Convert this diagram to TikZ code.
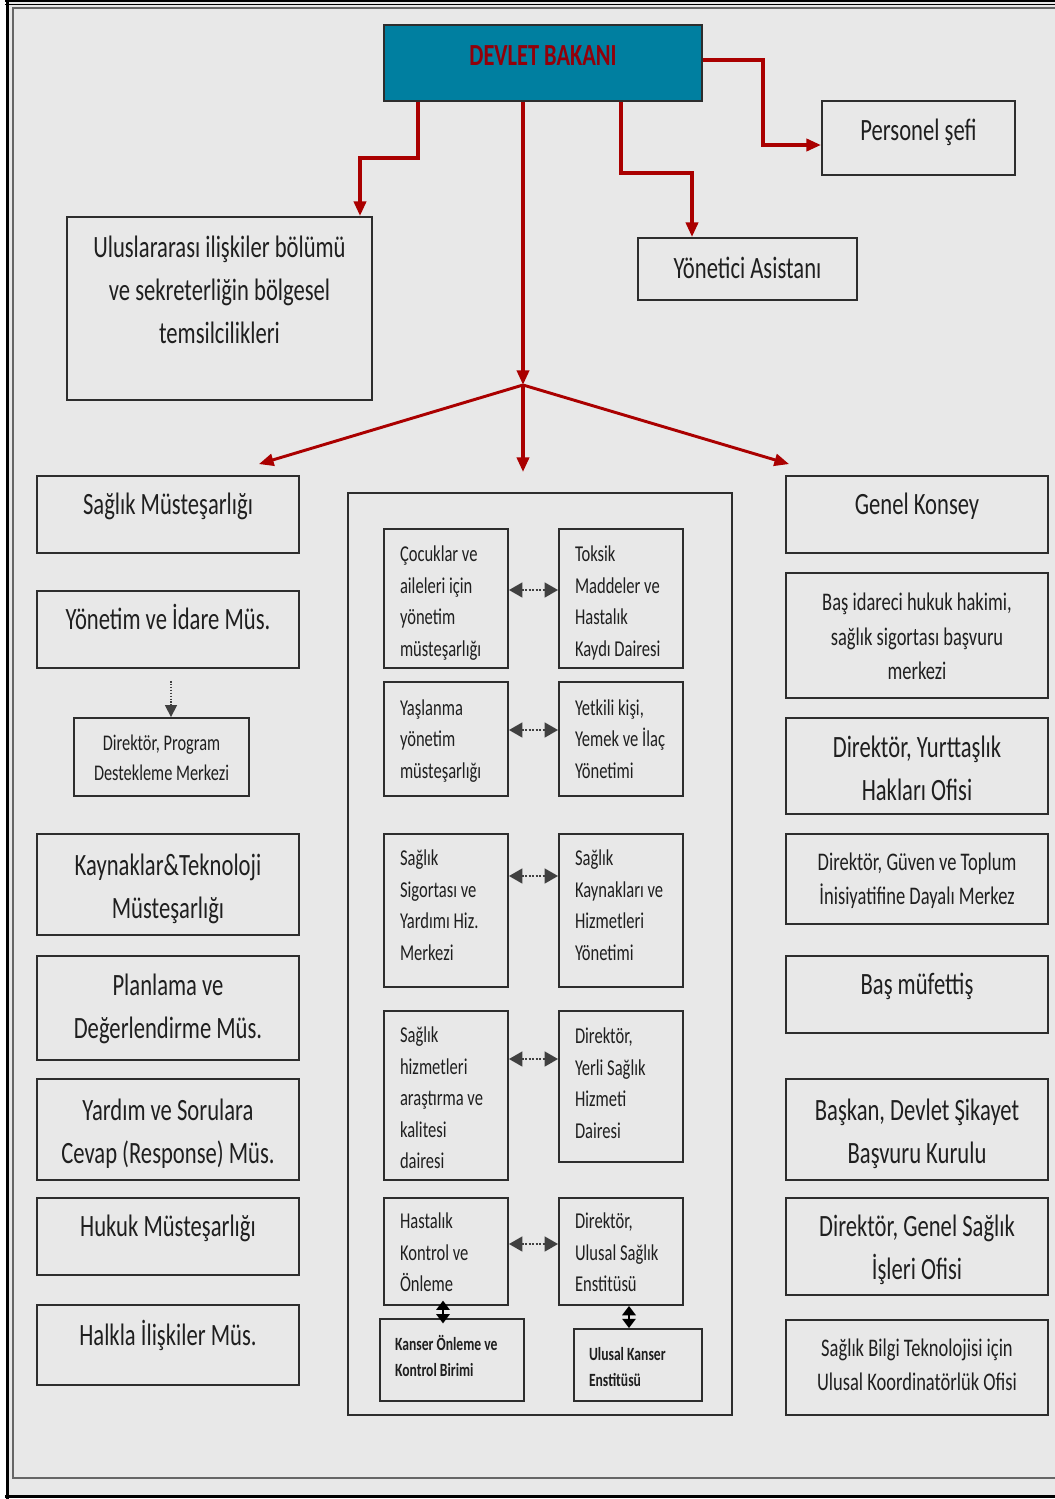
\documentclass[tikz,border=0pt]{standalone}
\usepackage{fontspec}
\setmainfont{Carlito}
\usepackage{graphicx}
\usetikzlibrary{arrows.meta,calc}
\definecolor{zemin}{RGB}{232,232,232}
\definecolor{petrol}{RGB}{0,127,160}
\definecolor{bordo}{RGB}{170,0,0}
\definecolor{baslik}{RGB}{145,0,10}
\definecolor{cizgi}{RGB}{45,45,45}
\newcommand{\yazi}[3][0]{\raisebox{#1pt}[0pt][0pt]{\scalebox{0.73}[1]{\begin{tabular}{@{}#2@{}}#3\end{tabular}}}}
\begin{document}
\begin{tikzpicture}[x=0.75pt,y=-0.75pt,
  kutu/.style={draw=cizgi,line width=1.4pt,inner sep=0pt,text=black!88},
  boyut/.style 2 args={minimum width=#1*0.75pt,minimum height=#2*0.75pt},
  iri/.style={font=\fontsize{23.25}{32.25}\selectfont},
  orta/.style={font=\fontsize{19}{25.8}\selectfont},
  ufak/.style={font=\fontsize{17}{23.6}\selectfont},
  minik/.style={font=\fontsize{14}{19.5}\selectfont\bfseries},
  bag/.style={draw=bordo,line width=2.8pt,-{Triangle[length=11pt,width=9pt]}},
  capraz/.style={bag,line width=2.2pt},
  cift/.style={draw=black!75,densely dotted,line width=1.6pt,{Triangle[length=10pt,width=11pt]}-{Triangle[length=10pt,width=11pt]}},
  kisa/.style={draw=black,line width=2pt,{Triangle[length=7pt,width=10pt]}-{Triangle[length=7pt,width=10pt]}},
  nokta/.style={draw=black!75,densely dotted,line width=1.2pt,-{Triangle[length=9pt,width=9pt]}}]
\useasboundingbox (0,0) rectangle (1055,1499);
\fill[white] (0,0) rectangle (1055,1499);
\fill[zemin] (6,1) rectangle (1055,1498);
\draw[line width=1.2pt] (5,1) -- (1055,1);
\draw[line width=1pt] (5,4.5) -- (1055,4.5);
\draw[line width=2.4pt] (7.5,0) -- (7.5,1499);
\draw[line width=2pt] (5,1496.5) -- (1055,1496.5);
\draw[gray!80!black,line width=1.5pt] (1055,1478) -- (13,1478) -- (13,8) -- (1055,8);

\node[kutu,boyut={318}{76},fill=petrol,text=baslik,font=\fontsize{23}{30}\selectfont\bfseries] (bakan) at (543,63) {\yazi[-2]{c}{DEVLET BAKANI}};
\node[kutu,iri,boyut={193}{74}] (sef) at (918.5,138) {\yazi[-1.5]{c}{Personel şefi}};
\node[kutu,iri,boyut={219}{62}] (asistan) at (747.5,269) {\yazi[-6.75]{c}{Yönetici Asistanı}};
\node[kutu,iri,boyut={305}{183}] (uluslar) at (219.5,308.5) {\yazi[6]{c}{Uluslararası ilişkiler bölümü\\ve sekreterliğin bölgesel\\temsilcilikleri}};

\node[kutu,iri,boyut={262}{77}] (saglikmust) at (168,514.5) {\yazi{c}{Sağlık Müsteşarlığı}};
\node[kutu,iri,boyut={262}{77}] (yonetim) at (168,629.5) {\yazi{c}{Yönetim ve İdare Müs.}};
\node[kutu,font=\fontsize{16.8}{22.5}\selectfont,boyut={175}{78}] (dirprog) at (161.5,757) {\yazi[-6]{c}{Direktör, Program\\Destekleme Merkezi}};
\node[kutu,iri,boyut={262}{101}] (kaynak) at (168,884.5) {\yazi[-9]{c}{Kaynaklar\&Teknoloji\\Müsteşarlığı}};
\node[kutu,iri,boyut={262}{104}] (planlama) at (168,1008) {\yazi[-6.75]{c}{Planlama ve\\Değerlendirme Müs.}};
\node[kutu,iri,boyut={262}{101}] (yardim) at (168,1129.5) {\yazi[-9.4]{c}{Yardım ve Sorulara\\Cevap (Response) Müs.}};
\node[kutu,iri,boyut={262}{77}] (hukuk) at (168,1236.5) {\yazi{c}{Hukuk Müsteşarlığı}};
\node[kutu,iri,boyut={262}{80}] (halkla) at (168,1345) {\yazi{c}{Halkla İlişkiler Müs.}};

\node[kutu,iri,boyut={262}{77}] (konsey) at (917,514.5) {\yazi{c}{Genel Konsey}};
\node[kutu,orta,boyut={262}{125}] (hakim) at (917,635.5) {\yazi[-6.4]{c}{Baş idareci hukuk hakimi,\\sağlık sigortası başvuru\\merkezi}};
\node[kutu,iri,boyut={262}{96}] (yurttas) at (917,766) {\yazi[-9.4]{c}{Direktör, Yurttaşlık\\Hakları Ofisi}};
\node[kutu,orta,boyut={262}{90}] (guven) at (917,879) {\yazi[-5.6]{c}{Direktör, Güven ve Toplum\\İnisiyatifine Dayalı Merkez}};
\node[kutu,iri,boyut={262}{77}] (mufettis) at (917,994.5) {\yazi{c}{Baş müfettiş}};
\node[kutu,iri,boyut={262}{101}] (sikayet) at (917,1129.5) {\yazi[-9.4]{c}{Başkan, Devlet Şikayet\\Başvuru Kurulu}};
\node[kutu,iri,boyut={262}{97}] (genelsaglik) at (917,1246.5) {\yazi[-8.6]{c}{Direktör, Genel Sağlık\\İşleri Ofisi}};
\node[kutu,orta,boyut={262}{95}] (bilgi) at (917,1367.5) {\yazi[-3.75]{c}{Sağlık Bilgi Teknolojisi için\\Ulusal Koordinatörlük Ofisi}};

\node[kutu,boyut={384}{922}] (merkez) at (540,954) {};
\node[kutu,ufak,boyut={124}{139}] (cocuk) at (446,598.5) {\yazi[-7.6]{p{94.5pt}}{Çocuklar ve\\aileleri için\\yönetim\\müsteşarlığı}};
\node[kutu,ufak,boyut={124}{139}] (toksik) at (621,598.5) {\yazi[-7.6]{p{94.5pt}}{Toksik\\Maddeler ve\\Hastalık\\Kaydı Dairesi}};
\node[kutu,ufak,boyut={124}{114}] (yaslanma) at (446,739) {\yazi[-5.5]{p{94.5pt}}{Yaşlanma\\yönetim\\müsteşarlığı}};
\node[kutu,ufak,boyut={124}{114}] (yetkili) at (621,739) {\yazi[-5.5]{p{94.5pt}}{Yetkili kişi,\\Yemek ve İlaç\\Yönetimi}};
\node[kutu,ufak,boyut={124}{153}] (sigorta) at (446,910.5) {\yazi[-1.6]{p{94.5pt}}{Sağlık\\Sigortası ve\\Yardımı Hiz.\\Merkezi}};
\node[kutu,ufak,boyut={124}{153}] (kaynaklar) at (621,910.5) {\yazi[-1.6]{p{94.5pt}}{Sağlık\\Kaynakları ve\\Hizmetleri\\Yönetimi}};
\node[kutu,ufak,boyut={124}{169}] (arastirma) at (446,1095.5) {\yazi[-7.2]{p{94.5pt}}{Sağlık\\hizmetleri\\araştırma ve\\kalitesi\\dairesi}};
\node[kutu,ufak,boyut={124}{151}] (yerli) at (621,1086.5) {\yazi[-3.1]{p{94.5pt}}{Direktör,\\Yerli Sağlık\\Hizmeti\\Dairesi}};
\node[kutu,ufak,boyut={124}{107}] (hastalik) at (446,1251.5) {\yazi[-6.1]{p{94.5pt}}{Hastalık\\Kontrol ve\\Önleme}};
\node[kutu,ufak,boyut={124}{107}] (enstitu) at (621,1251.5) {\yazi[-6.1]{p{94.5pt}}{Direktör,\\Ulusal Sağlık\\Enstitüsü}};
\node[kutu,minik,boyut={144}{82}] (kanser) at (452,1360) {\yazi[-2.6]{p{117pt}}{Kanser Önleme ve\\Kontrol Birimi}};
\node[kutu,minik,boyut={128}{72}] (ulusalkanser) at (638,1365) {\yazi[-6.4]{p{100.7pt}}{Ulusal Kanser\\Enstitüsü}};

\coordinate (hub) at (523,385);
\draw[bag] (bakan.south -| hub) -- (hub);
\draw[bag] (hub) -- ($(merkez.north -| hub)+(0,-20)$);
\draw[capraz] (hub) -- ($(saglikmust.north east)+(-41,-11)$);
\draw[capraz] (hub) -- ($(konsey.north west)+(4,-11)$);
\draw[bag] (bakan.south -| 418,0) -- ++(0,56) -| (uluslar.north -| 360,0);
\draw[bag] (bakan.south -| 621,0) -- ++(0,71) -| (asistan.north -| 692,0);
\draw[bag] (bakan.east |- 0,60) -- ++(60,0) |- (sef.west |- 0,145);

\draw[cift] (cocuk.east |- 0,590) -- (toksik.west |- 0,590);
\draw[cift] (yaslanma.east |- 0,730) -- (yetkili.west |- 0,730);
\draw[cift] (sigorta.east |- 0,876) -- (kaynaklar.west |- 0,876);
\draw[cift] (arastirma.east |- 0,1059) -- (yerli.west |- 0,1059);
\draw[cift] (hastalik.east |- 0,1244) -- (enstitu.west |- 0,1244);
\draw[kisa,shorten <=-4pt,shorten >=-4pt] (hastalik.south -| 443,0) -- (kanser.north -| 443,0);
\draw[kisa] (enstitu.south -| 629,0) -- (ulusalkanser.north -| 629,0);
\draw[nokta] (yonetim.south -| 171,0) ++(0,12) -- (dirprog.north -| 171,0);
\end{tikzpicture}
\end{document}
